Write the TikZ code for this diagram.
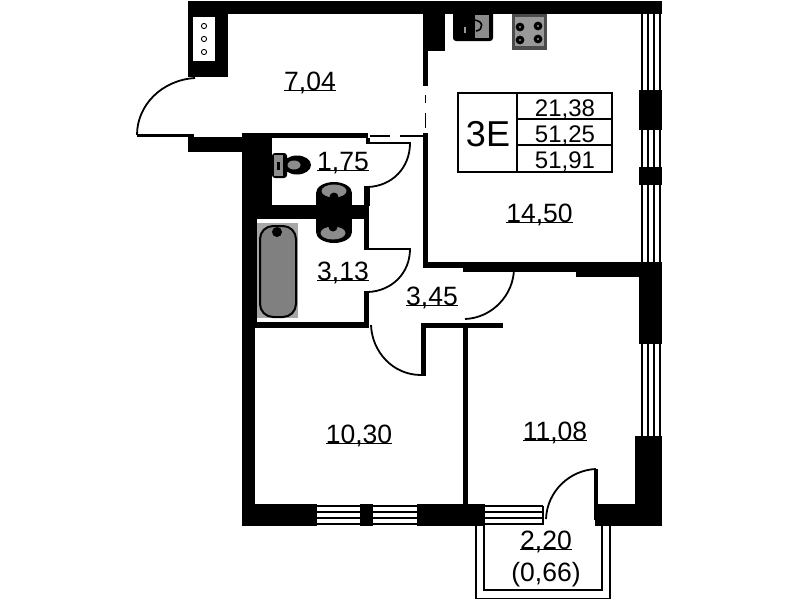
\documentclass[tikz,border=0pt]{standalone}
\usepackage{fontspec}
\setmainfont{Liberation Sans}
\newsavebox{\ulbox}
\newcommand{\ulnum}[1]{\sbox{\ulbox}{#1}\rlap{\rule[-1.3pt]{\wd\ulbox}{1.2pt}}\usebox{\ulbox}}
\tikzset{
  wall/.style={fill=black,draw=none},
  arcline/.style={draw=black,line width=1.8pt},
  glass/.style={draw=black,line width=1.9pt},
  grey part/.style={fill=black!45,draw=none},
  room/.style={anchor=base,inner sep=0pt,font=\fontsize{26.5}{26.5}\selectfont},
  cell/.style={anchor=base,inner sep=0pt,font=\fontsize{24}{24}\selectfont},
  frame/.style={draw=black,line width=1.8pt},
}
\begin{document}
\begin{tikzpicture}[x=1pt,y=-1pt]
\useasboundingbox (0,0) rectangle (799,600);
\fill[white] (0,0) rectangle (799,600);
% outer top wall and vent block
\fill[wall] (188,1) rectangle (662,14);
\fill[wall] (188,1) rectangle (228,77);
\fill[white] (193,17) rectangle (215,61);
\foreach \yy in {26,39,52} \draw[line width=0.9pt] (204,\yy) circle (2.6);
% entrance door
\draw[arcline] (195,78) .. controls (162,80) and (137,105) .. (137,135);
\draw[line width=2.4pt] (137,135.5) -- (194,135.5);
\fill[wall] (188,137) rectangle (242,152);
% left wall
\fill[wall] (242,133) rectangle (255,526);
\fill[wall] (242,133) rectangle (272,218);
\fill[wall] (242,133) rectangle (368,138);
\fill[wall] (242,205) rectangle (369,219);
\fill[wall] (255,218) rectangle (257,322);
% WC door
\fill[wall] (366,138) rectangle (370,144);
\draw[line width=2.6pt] (368,143) -- (411,143);
\draw[arcline] (410,143) .. controls (410,168) and (392,186) .. (368,187);
\fill[wall] (364,186) rectangle (370,206);
% bath door and bath wall
\fill[wall] (364,219) rectangle (369,248);
\draw[line width=2.6pt] (364,249) -- (411,249);
\draw[arcline] (410,249) .. controls (410,273) and (392,291) .. (368,292);
\fill[wall] (364,291) rectangle (369,328);
\fill[wall] (255,322) rectangle (369,328);
% kitchen corner and partition
\fill[wall] (423,14) rectangle (445,51);
\fill[wall] (423,51) rectangle (428,86);
\draw[line width=1.2pt] (425.5,95) -- (425.5,103);
\draw[line width=1.2pt] (425.5,113) -- (425.5,128);
\fill[wall] (423,133) rectangle (428,268);
\draw[line width=1.2pt] (370,136) -- (390,136);
\draw[line width=1.2pt] (400,136) -- (423,136);
% kitchen bottom wall
\fill[wall] (423,262) rectangle (640,268);
\fill[wall] (463,262) rectangle (576,272);
\fill[wall] (576,262) rectangle (640,277);
% right wall
\fill[wall] (639,262) rectangle (662,344);
\fill[wall] (639,90) rectangle (662,130);
\fill[wall] (639,167) rectangle (662,185);
\fill[wall] (635,436) rectangle (662,526);
\foreach \xx in {642,648,654,660}{
  \draw[glass] (\xx,14) -- (\xx,90);
  \draw[glass] (\xx,130) -- (\xx,167);
  \draw[glass] (\xx,185) -- (\xx,262);
  \draw[glass] (\xx,344) -- (\xx,436);
}
% corridor doors and walls
\draw[arcline] (514,268) .. controls (514,295) and (492,318) .. (465,319);
\fill[wall] (421,323) rectangle (503,328);
\fill[wall] (421,323) rectangle (426,376);
\fill[wall] (463,328) rectangle (468,505);
\draw[arcline] (371,325) .. controls (372,352) and (393,375) .. (421,375);
% bottom wall
\fill[wall] (242,504) rectangle (317,526);
\fill[wall] (360,504) rectangle (373,526);
\fill[wall] (417,504) rectangle (485,526);
\foreach \yy in {506,512,518,524}{
  \draw[glass] (317,\yy) -- (360,\yy);
  \draw[glass] (373,\yy) -- (417,\yy);
  \draw[glass] (485,\yy) -- (543,\yy);
}
\fill[wall] (542,506) rectangle (544,525);
% balcony door
\draw[arcline] (546,519) .. controls (547,491) and (570,470) .. (596,469);
\fill[wall] (594,469) rectangle (598,520);
\fill[wall] (595,504) rectangle (640,526);
% balcony
\draw[frame] (476,526) -- (476,598.5) -- (610,598.5) -- (610,526);
\draw[frame] (484,526) -- (484,590) -- (602,590) -- (602,526);
% toilet
\fill[wall,rounded corners=3pt] (272,153) rectangle (287,178);
\fill[grey part] (274,155) rectangle (283,176);
\fill[wall] (277,162) rectangle (280,170);
\fill[wall] (297,165) ellipse (14 and 9.5);
\fill[grey part] (294,165) ellipse (6.5 and 4.5);
% sinks
\fill[wall] (334,193) ellipse (18 and 11);
\fill[wall] (316,193) rectangle (352,206);
\fill[grey part] (334,191) ellipse (12.5 and 6.5);
\fill[wall] (334,197) circle (4.5);
\fill[wall] (334,232) ellipse (18 and 11);
\fill[wall] (316,218) rectangle (352,232);
\fill[grey part] (333,233) ellipse (12.5 and 6.5);
\fill[wall] (333,227) circle (4.5);
% bath
\fill[black!35] (257,223) rectangle (298,318);
\fill[black!50,draw=black,line width=2pt,rounded corners=13pt] (260,226) rectangle (296,317);
\fill[wall] (277,232) circle (5);
% kitchen sink
\fill[wall,rounded corners=3pt] (453,10) rectangle (493,41);
\fill[grey part] (475,15) rectangle (489,38);
\draw[line width=1.6pt] (473,20) .. controls (484,20) and (484,30) .. (476,31);
\fill[black!40] (464,27) rectangle (466,33);
% stove
\fill[black!70] (512,14) rectangle (547,50);
\fill[black!40] (515,17) rectangle (544,46);
\foreach \px/\py in {520/27,538/26,520/40,538/39}{
  \fill[wall] (\px,\py) circle (4.4);
  \fill[black!40] (\px,\py) circle (1.1);
}
% info table
\draw[frame] (458,93) rectangle (612,172);
\draw[frame] (517,93) -- (517,172);
\draw[frame] (517,119) -- (612,119);
\draw[frame] (517,145) -- (612,145);
\node[anchor=base,inner sep=0pt,font=\fontsize{36}{36}\selectfont] (kind) at (488,146) {3E};
\node[cell] (cellA) at (565,116) {21,38};
\node[cell] (cellB) at (565,142) {51,25};
\node[cell] (cellC) at (565,168) {51,91};
% room labels
\node[room] (hall) at (310,90) {\ulnum{7,04}};
\node[room] (wc) at (343,170) {\ulnum{1,75}};
\node[room] (bathroom) at (343,280) {\ulnum{3,13}};
\node[room] (corridor) at (432,305) {\ulnum{3,45}};
\node[room] (kitchen) at (539.5,222) {\ulnum{14,50}};
\node[room] (roomA) at (359,443) {\ulnum{10,30}};
\node[room] (roomB) at (555,440) {\ulnum{11,08}};
\node[room] (balcony) at (546,549) {\ulnum{2,20}};
\node[room] (balconyb) at (546,581) {(0,66)};
\end{tikzpicture}
\end{document}
